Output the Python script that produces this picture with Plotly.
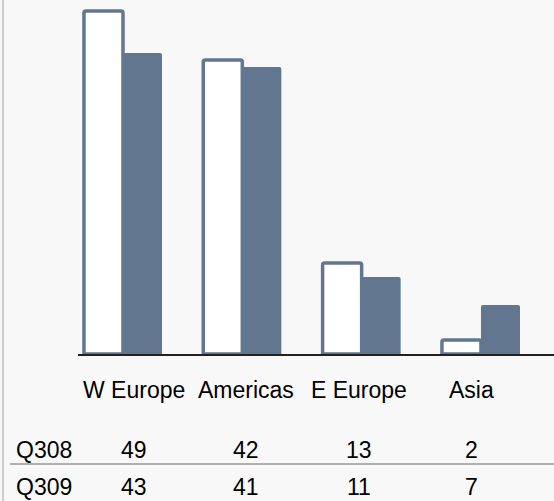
import plotly.graph_objects as go

categories = ["W Europe", "Americas", "E Europe", "Asia"]
series_names = ["Q308", "Q309"]
q308 = [49, 42, 13, 2]
q309 = [43, 41, 11, 7]

W, H = 554, 501
L, B = 78, 147
PW, PH = W - L, H - B

def px_x(px):
    return (px - L) / PW

def px_y(py):
    return (PH - py) / PH

BAR = "#62778f"
FONT = "Liberation Sans, Arial, sans-serif"
FS = 23

fig = go.Figure()
fig.add_trace(go.Bar(
    x=categories, y=q308, name=series_names[0],
    marker=dict(color="#ffffff", line=dict(color=BAR, width=3.5), cornerradius=2),
))
fig.add_trace(go.Bar(
    x=categories, y=q309, name=series_names[1],
    marker=dict(color=BAR, line=dict(color=BAR, width=0), cornerradius=2),
))

annotations = []
col_px = [134, 246, 359, 471]
for c, cx in zip(categories, col_px):
    annotations.append(dict(text=c, x=px_x(cx), y=px_y(390), xref="paper", yref="paper",
                            xanchor="center", yanchor="middle", showarrow=False,
                            font=dict(size=FS, color="#000000", family=FONT)))
rows = [(series_names[0], q308, 450), (series_names[1], q309, 487)]
for name, vals, ry in rows:
    annotations.append(dict(text=name, x=px_x(14), y=px_y(ry), xref="paper", yref="paper",
                            xanchor="left", yanchor="middle", showarrow=False,
                            font=dict(size=FS, color="#000000", family=FONT)))
    for v, cx in zip(vals, col_px):
        annotations.append(dict(text=str(v), x=px_x(cx), y=px_y(ry), xref="paper", yref="paper",
                                xanchor="center", yanchor="middle", showarrow=False,
                                font=dict(size=FS, color="#000000", family=FONT)))

shapes = [
    dict(type="line", xref="paper", yref="paper", x0=px_x(3), x1=px_x(3),
         y0=px_y(H), y1=px_y(0), line=dict(color="#cccccc", width=2)),
    dict(type="line", xref="paper", yref="paper", x0=px_x(10), x1=px_x(W),
         y0=px_y(464), y1=px_y(464), line=dict(color="#999999", width=1.5)),
]

fig.update_layout(
    width=W, height=H,
    margin=dict(l=L, r=0, t=0, b=B, pad=0),
    paper_bgcolor="#f8f8f8", plot_bgcolor="#f8f8f8",
    barmode="group", bargap=0.346, bargroupgap=0,
    showlegend=False,
    xaxis=dict(type="category", range=[-0.377, 3.612], showticklabels=False,
               showgrid=False, zeroline=False, showline=True,
               linecolor="#222222", linewidth=2, ticks=""),
    yaxis=dict(range=[0, PH / 7.0], visible=False, showgrid=False, zeroline=False),
    annotations=annotations,
    shapes=shapes,
)

fig.write_html(
    "out.html",
    config={"displayModeBar": False},
    post_script="document.body.style.margin='0';document.body.style.padding='0';"
                "document.body.style.background='#f8f8f8';document.body.style.overflow='hidden';",
)
